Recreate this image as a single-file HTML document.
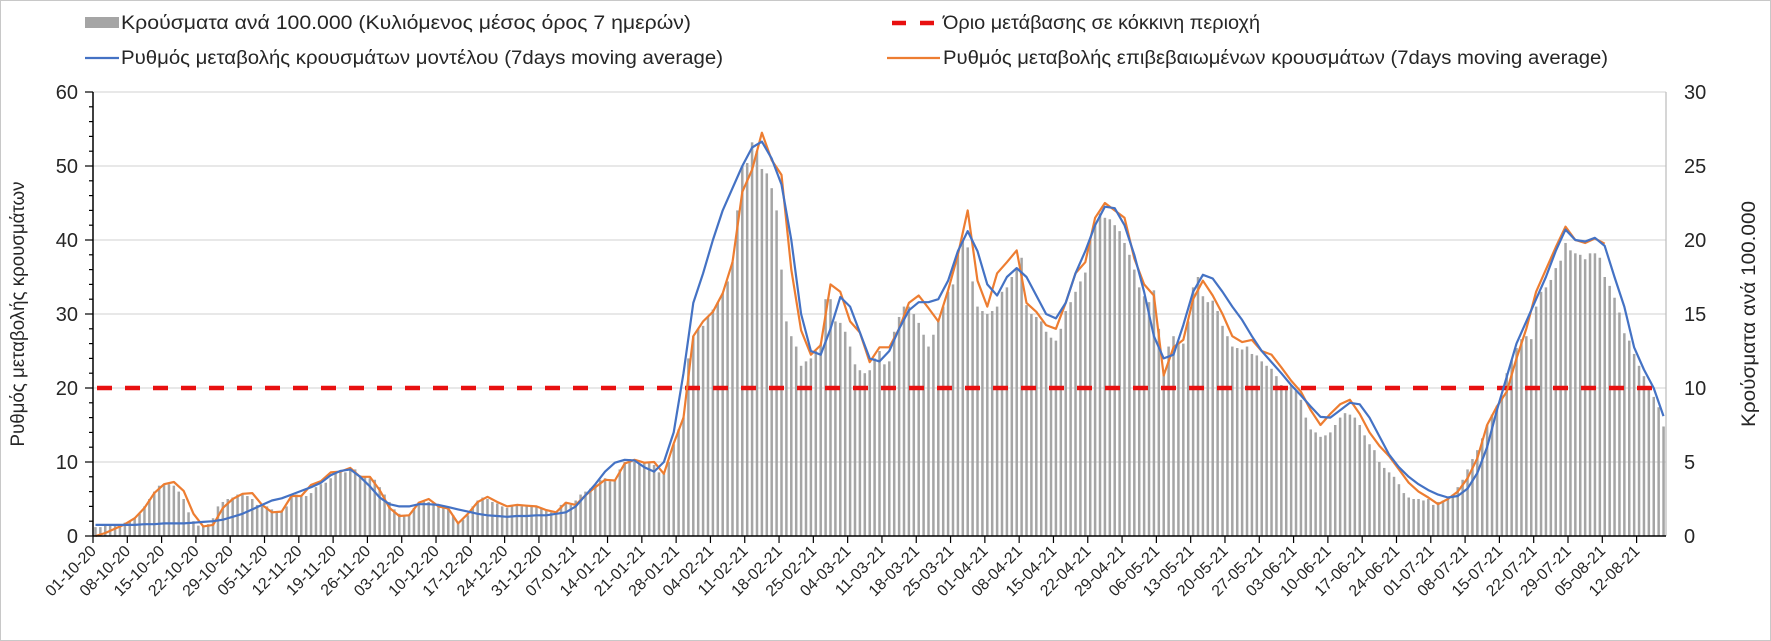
<!DOCTYPE html>
<html><head><meta charset="utf-8"><style>
html,body{margin:0;padding:0;background:#fff;}
svg{display:block;font-family:"Liberation Sans",sans-serif;}
</style></head><body>
<svg id="chart" width="1771" height="641" viewBox="0 0 1771 641" xmlns="http://www.w3.org/2000/svg">
<rect x="0.5" y="0.5" width="1770" height="640" fill="#fff" stroke="#c8c8c8"/>
<g id="grid"></g>
<g id="bars"></g>
<line id="redline" stroke="#e81010" stroke-width="4.5" stroke-dasharray="15 13"/>
<path id="orange" fill="none" stroke="#ed7d31" stroke-width="2.2" stroke-linejoin="round"/>
<path id="blue" fill="none" stroke="#4472c4" stroke-width="2.2" stroke-linejoin="round"/>
<g id="axes"></g>
<g font-size="19" fill="#262626">
  <g>
    <rect x="85" y="17" width="34" height="11" fill="#a5a5a5"/>
    <text x="121" y="29" textLength="570" lengthAdjust="spacingAndGlyphs">Κρούσματα ανά 100.000 (Κυλιόμενος μέσος όρος 7 ημερών)</text>
  </g>
  <g>
    <line x1="85" y1="58" x2="119" y2="58" stroke="#4472c4" stroke-width="2.2"/>
    <text x="121" y="64" textLength="602" lengthAdjust="spacingAndGlyphs">Ρυθμός μεταβολής κρουσμάτων μοντέλου (7days moving average)</text>
  </g>
  <g>
    <line x1="892" y1="23" x2="940" y2="23" stroke="#e81010" stroke-width="4.5" stroke-dasharray="14 14"/>
    <text x="943" y="29" textLength="317" lengthAdjust="spacingAndGlyphs">Όριο μετάβασης σε κόκκινη περιοχή</text>
  </g>
  <g>
    <line x1="887" y1="58" x2="940" y2="58" stroke="#ed7d31" stroke-width="2.2"/>
    <text x="943" y="64" textLength="665" lengthAdjust="spacingAndGlyphs">Ρυθμός μεταβολής επιβεβαιωμένων κρουσμάτων (7days moving average)</text>
  </g>
</g>
<text transform="translate(24,314) rotate(-90)" text-anchor="middle" font-size="19" fill="#262626" textLength="265" lengthAdjust="spacingAndGlyphs">Ρυθμός μεταβολής κρουσμάτων</text>
<text transform="translate(1755,314) rotate(-90)" text-anchor="middle" font-size="19" fill="#262626" textLength="226" lengthAdjust="spacingAndGlyphs">Κρούσματα ανά 100.000</text>
</svg>
<script>
const weekLabels = ["01-10-20","08-10-20","15-10-20","22-10-20","29-10-20","05-11-20","12-11-20","19-11-20","26-11-20","03-12-20","10-12-20","17-12-20","24-12-20","31-12-20","07-01-21","14-01-21","21-01-21","28-01-21","04-02-21","11-02-21","18-02-21","25-02-21","04-03-21","11-03-21","18-03-21","25-03-21","01-04-21","08-04-21","15-04-21","22-04-21","29-04-21","06-05-21","13-05-21","20-05-21","27-05-21","03-06-21","10-06-21","17-06-21","24-06-21","01-07-21","08-07-21","15-07-21","22-07-21","29-07-21","05-08-21","12-08-21"];
const leftTicks = [0,10,20,30,40,50,60];
const rightTicks = [0,5,10,15,20,25,30];
const threshold = [20];
// daily bars, right axis (cases per 100k)
const barValues = [0.6,0.6,0.7,0.7,0.8,0.8,
0.9,1.0,1.2,1.5,2.0,2.5,3.0,3.4,3.5,
3.5,3.4,3.0,2.5,1.6,1.0,0.7,0.7,0.8,1.2,
2.0,2.3,2.5,2.6,2.8,2.8,2.7,2.5,2.1,2.0,
2.0,1.8,1.6,1.7,2.0,2.8,2.8,2.7,2.7,2.9,
3.3,3.5,3.6,3.9,4.2,4.3,4.3,4.5,4.5,4.1,
4.0,3.9,3.8,3.3,2.8,2.3,1.8,1.5,1.4,1.4,
1.9,2.3,2.4,2.3,2.2,2.0,1.9,1.8,1.4,
0.9,1.1,1.4,2.0,2.4,2.6,2.5,2.3,2.2,2.0,
1.9,2.0,2.1,2.0,2.1,2.0,2.0,1.9,1.7,1.6,
1.6,2.1,2.3,2.1,2.4,2.8,3.0,3.2,3.5,3.8,
3.9,3.7,3.8,4.5,5.0,5.2,5.0,4.9,5.0,4.9,
4.8,4.3,4.2,5.0,6.2,7.2,8.0,12.0,13.5,14.0,
14.2,14.8,15.3,15.8,16.4,17.2,18.5,22.0,25.0,25.2,
26.6,26.0,24.8,24.5,23.5,22.0,18.0,14.5,13.5,
12.8,11.5,11.8,12.0,12.5,13.0,16.0,16.0,14.5,14.4,
13.8,12.8,11.6,11.2,11.0,11.2,12.0,12.5,11.6,11.8,
13.8,14.8,15.5,15.5,15.0,14.4,13.6,12.8,13.6,14.5,
15.5,16.5,17.0,19.0,20.0,19.5,17.2,15.5,15.2,15.0,
15.2,15.5,16.5,16.8,17.5,18.0,18.8,15.6,15.0,14.8,
14.5,13.8,13.4,13.2,14.0,15.2,15.8,16.5,17.2,17.8,
20.0,21.0,21.8,21.5,21.4,21.0,20.6,19.8,19.0,
18.0,16.8,16.2,15.8,16.6,14.0,11.2,12.8,13.5,13.0,
13.0,14.5,16.8,17.5,16.2,15.8,15.9,15.2,14.2,13.5,
12.8,12.7,12.6,12.8,12.3,12.2,11.8,11.5,11.3,10.8,
10.2,10.0,10.2,9.8,9.2,8.0,7.2,7.0,6.7,6.8,
7.0,7.5,8.0,8.3,8.2,8.0,7.5,6.8,6.2,5.8,
5.0,4.6,4.3,4.0,3.5,2.9,2.6,2.5,2.5,
2.4,2.5,2.1,2.3,2.4,2.6,2.8,3.3,3.8,4.5,
5.2,5.8,6.6,7.5,8.2,8.8,9.5,11.0,11.9,12.7,
13.3,13.5,13.3,15.5,16.5,16.8,17.3,18.1,18.6,19.8,
19.3,19.1,19.0,18.7,19.1,19.1,18.8,17.5,16.9,16.1,
15.1,13.7,13.2,12.3,11.5,10.8,10.0,9.4,8.7,7.4];
// every 2 days, left axis
const lineStep = [2];
const modelRate = [1.5,1.5,1.5,
1.5,1.5,1.6,1.6,1.7,1.7,1.7,1.8,1.9,2.0,
2.2,2.6,3.0,3.6,4.2,4.8,5.1,5.6,6.1,
6.6,7.2,8.2,8.8,9.0,8.0,6.7,5.2,4.3,4.0,
4.0,4.3,4.3,4.2,3.9,3.6,3.3,3.0,2.8,2.7,
2.6,2.7,2.7,2.8,2.8,3.0,3.2,4.0,5.5,7.0,
8.7,9.9,10.3,10.2,9.3,8.7,10.0,14.0,22.0,31.5,
35.5,40.0,44.0,47.0,50.0,52.5,53.3,51.0,47.5,40.0,
30.0,25.0,24.5,28.0,32.3,31.0,27.5,24.0,23.6,25.0,
28.0,30.5,31.6,31.6,32.0,34.5,38.5,41.2,38.5,34.0,
32.5,35.0,36.2,35.0,32.5,30.0,29.4,31.5,35.5,
38.5,42.0,44.5,44.3,42.0,38.0,33.0,27.0,24.0,24.5,
28.5,33.0,35.3,34.8,33.0,31.0,29.2,27.0,25.0,23.5,
22.0,20.4,19.0,17.5,16.1,16.0,17.0,18.0,17.8,16.0,
13.5,11.0,9.3,8.0,7.0,6.2,5.6,5.2,5.4,6.4,
8.5,12.0,17.0,21.5,26.0,29.0,32.0,35.0,38.5,41.4,
40.0,39.8,40.3,39.2,35.0,31.0,25.5,22.5,20.0,16.2];
const confirmedRate = [0.0,0.4,1.0,
1.6,2.4,3.8,5.8,7.0,7.3,6.1,3.0,1.3,1.5,
3.8,5.0,5.7,5.8,4.2,3.2,3.3,5.4,5.4,
6.9,7.4,8.6,8.7,9.2,8.0,8.0,6.2,3.8,2.7,
2.8,4.5,5.0,4.0,3.7,1.7,3.0,4.6,5.3,4.6,
4.0,4.2,4.1,4.0,3.5,3.2,4.5,4.2,5.5,6.6,
7.6,7.5,9.8,10.3,9.9,10.0,8.4,12.5,16.0,27.0,
29.0,30.3,32.8,37.0,46.5,49.5,54.5,50.8,48.8,36.0,
27.8,24.5,25.8,34.0,33.0,29.0,27.5,23.5,25.5,25.5,
28.0,31.5,32.5,30.8,29.0,33.2,38.0,44.0,34.5,31.0,
35.5,37.0,38.6,31.5,30.3,28.5,28.0,31.5,35.5,
37.0,43.0,45.0,44.0,43.0,37.5,34.0,32.5,21.7,25.5,
26.5,32.0,34.5,32.5,30.0,27.0,26.2,26.5,25.0,24.5,
22.8,21.0,19.5,17.0,15.0,16.5,17.8,18.4,16.5,14.0,
12.2,10.8,9.0,7.2,6.0,5.2,4.3,5.0,6.0,7.8,
10.5,15.0,17.5,19.5,24.0,28.0,33.0,36.0,39.0,41.8,
40.0,39.6,40.2,39.5];

const NS="http://www.w3.org/2000/svg";
const X0=93, X1=1666, Y0=536, Y1=92, NDAYS=321;
const dayW=(X1-X0)/NDAYS;
const xDay=d=>X0+dayW*(d+0.5);
const xEdge=d=>X0+dayW*d;
const yL=v=>Y0-(Y0-Y1)*v/60;
const yR=v=>Y0-(Y0-Y1)*v/30;
function mk(tag,attrs,parent){const e=document.createElementNS(NS,tag);for(const k in attrs)e.setAttribute(k,attrs[k]);parent.appendChild(e);return e;}

const grid=document.getElementById('grid');
leftTicks.forEach(t=>{ if(t===0)return;
  const l=mk('line',{x1:X0,x2:X1,y1:yL(t),y2:yL(t),stroke:'#d9d9d9','stroke-width':1.3},grid);
  
  
});

const bars=document.getElementById('bars');
barValues.forEach((v,i)=>{
  const r=mk('rect',{x:xDay(i)-1.25,y:yR(v),width:2.5,height:Y0-yR(v),fill:'#a5a5a5'},bars);
  
  
});

const rl=document.getElementById('redline');
rl.setAttribute('x1',X0+4);rl.setAttribute('x2',X1-5);
rl.setAttribute('y1',yL(threshold[0]));rl.setAttribute('y2',yL(threshold[0]));

function pathFor(arr){return arr.map((v,i)=>(i?'L':'M')+xDay(i*lineStep[0]).toFixed(1)+','+yL(v).toFixed(1)).join('');}
document.getElementById('blue').setAttribute('d',pathFor(modelRate));
document.getElementById('orange').setAttribute('d',pathFor(confirmedRate));

const ax=document.getElementById('axes');
mk('line',{x1:X0,x2:X0,y1:Y1,y2:Y0,stroke:'#000','stroke-width':1.5},ax);
mk('line',{x1:X1,x2:X1,y1:Y1,y2:Y0,stroke:'#bfbfbf','stroke-width':1.3},ax);
mk('line',{x1:X0,x2:X1,y1:Y0,y2:Y0,stroke:'#000','stroke-width':1.5},ax);
for(let v=0;v<=60;v+=2){const maj=v%10===0;
  mk('line',{x1:X0-(maj?8:4),x2:X0,y1:yL(v),y2:yL(v),stroke:'#000','stroke-width':1.2},ax);}
leftTicks.forEach(t=>{
  const tx=mk('text',{x:X0-15,y:yL(t)+7,'text-anchor':'end','font-size':20,fill:'#262626'},ax);
  tx.textContent=t;
  
  
});
rightTicks.forEach(t=>{
  const tx=mk('text',{x:1684,y:yR(t)+7,'font-size':20,fill:'#262626'},ax);
  tx.textContent=t;
  
  
});
weekLabels.forEach((lab,k)=>{
  const x=xEdge(k*7);
  mk('line',{x1:x,x2:x,y1:Y0,y2:Y0+7,stroke:'#000','stroke-width':1.2},ax);
  const tx=mk('text',{x:x+4,y:Y0+16,'text-anchor':'end','font-size':16,fill:'#262626',transform:`rotate(-45 ${x+4} ${Y0+16})`},ax);
  tx.textContent=lab;
  
  
});
</script>
</body></html>
